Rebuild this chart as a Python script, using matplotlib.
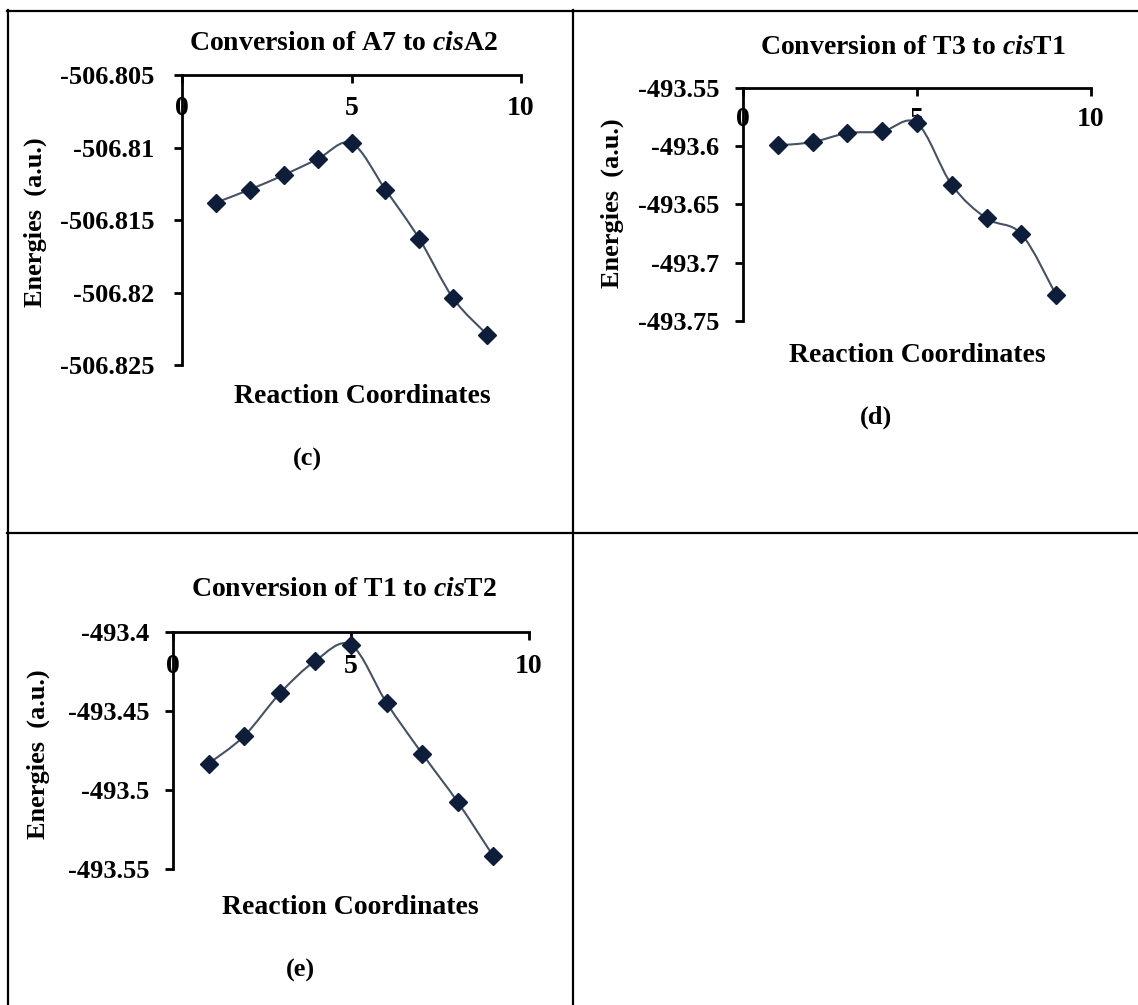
import numpy as np
import matplotlib
matplotlib.use('Agg')
import matplotlib.pyplot as plt
from matplotlib.path import Path
from matplotlib.patches import PathPatch
from matplotlib.lines import Line2D

plt.rcParams['font.family'] = ['Liberation Serif', 'DejaVu Serif']
plt.rcParams['font.weight'] = 'bold'
plt.rcParams['mathtext.fontset'] = 'custom'
plt.rcParams['mathtext.it'] = 'Liberation Serif:italic:bold'
plt.rcParams['mathtext.rm'] = 'Liberation Serif:bold'

# ---------------- data ----------------
coords = [1, 2, 3, 4, 5, 6, 7, 8, 9]
energy_c = [-506.8138, -506.8129, -506.8119, -506.8108, -506.8097,
            -506.8129, -506.8163, -506.8204, -506.8229]
energy_d = [-493.5993, -493.5964, -493.5887, -493.5873, -493.5802,
            -493.6332, -493.6620, -493.6754, -493.7278]
energy_e = [-493.4833, -493.4658, -493.4389, -493.4182, -493.4082,
            -493.4449, -493.4770, -493.5077, -493.5420]

xticks = [0, 5, 10]
xticklabels = ['0', '5', '10']
yticks_c = [-506.805, -506.81, -506.815, -506.82, -506.825]
ylabels_c = ['-506.805', '-506.81', '-506.815', '-506.82', '-506.825']
yticks_d = [-493.55, -493.6, -493.65, -493.7, -493.75]
ylabels_d = ['-493.55', '-493.6', '-493.65', '-493.7', '-493.75']
yticks_e = [-493.4, -493.45, -493.5, -493.55]
ylabels_e = ['-493.4', '-493.45', '-493.5', '-493.55']

title_c = 'Conversion of A7 to $\\mathit{cis}$A2'
title_d = 'Conversion of T3 to $\\mathit{cis}$T1'
title_e = 'Conversion of T1 to $\\mathit{cis}$T2'
xlabel = 'Reaction Coordinates'
ylabel = 'Energies  (a.u.)'

# ---------------- figure ----------------
W, H = 1138, 1005
fig = plt.figure(figsize=(W / 100, H / 100), dpi=100)
fig.patch.set_facecolor('white')

LINE_COL = '#465264'
MARK_COL = '#0d1d3a'


def fx(x):
    return x / W


def fy(y):
    return 1 - y / H


def smooth_path(x, y):
    pts = np.column_stack([x, y]).astype(float)
    n = len(pts)
    verts = [pts[0]]
    codes = [Path.MOVETO]
    for i in range(n - 1):
        p0 = pts[i - 1] if i > 0 else pts[i]
        p1 = pts[i]
        p2 = pts[i + 1]
        p3 = pts[i + 2] if i + 2 < n else pts[i + 1]
        c1 = p1 + (p2 - p0) / 6.0
        c2 = p2 - (p3 - p1) / 6.0
        verts += [c1, c2, p2]
        codes += [Path.CURVE4] * 3
    return Path(verts, codes)


def panel(rect_px, x, y, yticks, ylabels, title, title_xy, ylabel_xy,
          xlabel_xy, tag, tag_xy, ypad, xpad):
    l, t, r, b = rect_px
    ax = fig.add_axes([fx(l), fy(b), (r - l) / W, (b - t) / H])
    ax.set_xlim(0, 10)
    ax.set_ylim(min(yticks), max(yticks))
    ax.set_facecolor('none')
    for s in ['top', 'right']:
        ax.spines[s].set_visible(False)
    ax.spines['bottom'].set_position(('data', max(yticks)))
    for s in ['bottom', 'left']:
        ax.spines[s].set_linewidth(2.0)
        ax.spines[s].set_color('black')
    ax.set_xticks(xticks)
    ax.set_xticklabels(xticklabels)
    ax.set_yticks(yticks)
    ax.set_yticklabels(ylabels)
    ax.tick_params(axis='x', direction='out', length=6, width=2,
                   pad=xpad, labelsize=20)
    ax.tick_params(axis='y', direction='out', length=6, width=2,
                   pad=ypad, labelsize=19)
    for lab in ax.get_xticklabels() + ax.get_yticklabels():
        lab.set_fontweight('bold')
    patch = PathPatch(smooth_path(x, y), facecolor='none',
                      edgecolor=LINE_COL, lw=1.5, transform=ax.transData,
                      clip_on=False, zorder=2)
    ax.add_patch(patch)
    ax.plot(x, y, linestyle='none', marker='D', ms=9, color=MARK_COL,
            clip_on=False, zorder=3)
    fig.text(fx(title_xy[0]), fy(title_xy[1]), title, ha='center',
             va='center', fontsize=20, fontweight='bold')
    fig.text(fx(ylabel_xy[0]), fy(ylabel_xy[1]), ylabel, ha='center',
             va='center', rotation=90, fontsize=19, fontweight='bold')
    fig.text(fx(xlabel_xy[0]), fy(xlabel_xy[1]), xlabel, ha='center',
             va='center', fontsize=20, fontweight='bold')
    fig.text(fx(tag_xy[0]), fy(tag_xy[1]), tag, ha='center',
             va='center', fontsize=19, fontweight='bold')
    return ax


panel((182, 75, 521, 365), coords, energy_c, yticks_c, ylabels_c, title_c,
      (344, 44), (35, 222), (362, 396), '(c)', (307, 459), ypad=14, xpad=9)
panel((743, 88, 1091, 321), coords, energy_d, yticks_d, ylabels_d, title_d,
      (913, 47), (612, 203), (917, 355), '(d)', (876, 417), ypad=11, xpad=8)
panel((173, 632, 529, 869), coords, energy_e, yticks_e, ylabels_e, title_e,
      (344, 590), (38, 754), (350, 907), '(e)', (300, 970), ypad=11, xpad=10)

# table borders
def hline(y, x0, x1):
    fig.add_artist(Line2D([fx(x0), fx(x1)], [fy(y), fy(y)],
                          transform=fig.transFigure, color='black', lw=1.6))


def vline(x, y0, y1):
    fig.add_artist(Line2D([fx(x), fx(x)], [fy(y0), fy(y1)],
                          transform=fig.transFigure, color='black', lw=1.6))


hline(11, 7, 1138)
hline(533, 7, 1138)
vline(8, 10, 1005)
vline(573, 10, 1005)

fig.savefig('out.png', dpi=100, facecolor='white')
